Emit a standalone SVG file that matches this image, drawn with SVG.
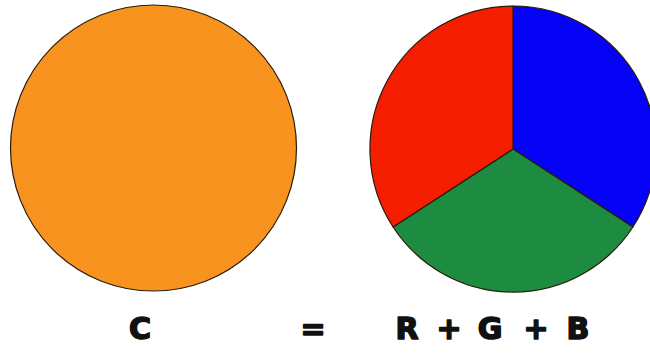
<svg xmlns="http://www.w3.org/2000/svg" width="650" height="356" viewBox="0 0 650 356">
<style>
.pie{stroke:#2a1a0a;stroke-width:1.2}
.t{font-family:"DejaVu Sans","Liberation Sans",sans-serif;font-weight:bold;font-size:30px;fill:#111;stroke:#111;stroke-width:1.6;stroke-linejoin:round;text-anchor:middle}
</style>
<rect width="650" height="356" fill="#fff"/>
<g id="color-c">
<circle cx="153.5" cy="148" r="143" fill="#F7931E" class="pie"/>
</g>
<g id="rgb-pie">
<path d="M513,149 L513,6 A143,143 0 0 1 632.9,227 Z" fill="#0500F6" class="pie"/>
<path d="M513,149 L632.9,227 A143,143 0 0 1 393.1,227 Z" fill="#1E8C40" class="pie"/>
<path d="M513,149 L393.1,227 A143,143 0 0 1 513,6 Z" fill="#F51E00" class="pie"/>
</g>
<g id="labels">
<text class="t" x="140" y="339">C</text>
<text class="t" x="313" y="339" font-size="24">=</text>
<text class="t" x="407" y="339">R</text>
<text class="t" x="449" y="339">+</text>
<text class="t" x="490" y="339">G</text>
<text class="t" x="536" y="339">+</text>
<text class="t" x="578" y="339">B</text>
</g>
</svg>
